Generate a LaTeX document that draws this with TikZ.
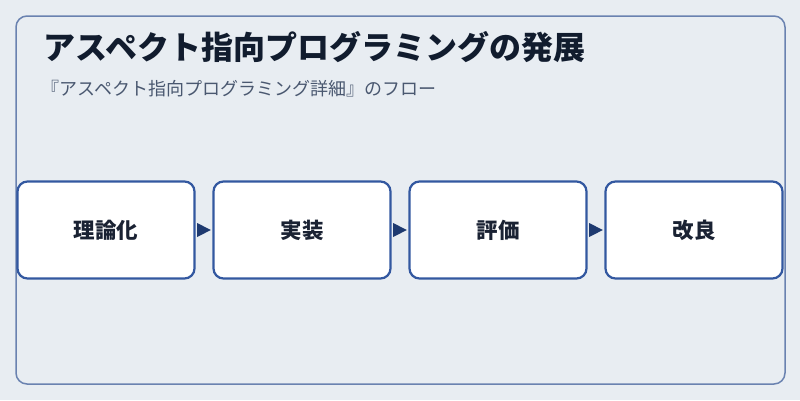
\documentclass[tikz,border=0pt]{standalone}
\usepackage{fontspec}
\setmainfont{Noto Sans CJK JP}
\usetikzlibrary{calc}
\definecolor{bgcol}{HTML}{E8EDF2}
\definecolor{framecol}{HTML}{6A82B0}
\definecolor{boxcol}{HTML}{3358A0}
\definecolor{tipcol}{HTML}{1E3A70}
\definecolor{titlecol}{HTML}{111C2E}
\definecolor{subcol}{HTML}{4A5870}
\definecolor{labelcol}{HTML}{1A2233}
\tikzset{
  stagebox/.style={draw=boxcol, line width=2.2pt, fill=white, rounded corners=10pt,
    minimum width=177pt, minimum height=97pt, inner sep=0pt,
    text=labelcol, font=\fontsize{21.5}{25}\selectfont\bfseries},
  flowtip/.style={fill=tipcol}
}
\begin{document}
\begin{tikzpicture}[x=1pt, y=-1pt]
    \fill[bgcol] (0,0) rectangle (800,400);
    \useasboundingbox (0,0) rectangle (800,400);
    \draw[framecol, line width=1.5pt, rounded corners=11pt] (16,16) rectangle (785,384);

    \node[anchor=west, text=titlecol, font=\fontsize{32}{36}\selectfont\bfseries]
        (title) at (40,47) {アスペクト指向プログラミングの発展};
    \node[anchor=west, text=subcol, font=\fontsize{18}{22}\selectfont]
        (subtitle) at (38,89) {『アスペクト指向プログラミング詳細』のフロー};

    \node[stagebox] (theory) at (106,230) {理論化};
    \node[stagebox] (impl)   at (302,230) {実装};
    \node[stagebox] (eval)   at (498,230) {評価};
    \node[stagebox] (refine) at (694,230) {改良};

    % arrow heads between the stages
    \fill[flowtip] ($(theory.east)+(1.5,-7)$) -- ($(impl.west)+(-1.5,0)$) -- ($(theory.east)+(1.5,7)$) -- cycle;
    \fill[flowtip] ($(impl.east)+(1.5,-7)$) -- ($(eval.west)+(-1.5,0)$) -- ($(impl.east)+(1.5,7)$) -- cycle;
    \fill[flowtip] ($(eval.east)+(1.5,-7)$) -- ($(refine.west)+(-1.5,0)$) -- ($(eval.east)+(1.5,7)$) -- cycle;
\end{tikzpicture}
\end{document}
